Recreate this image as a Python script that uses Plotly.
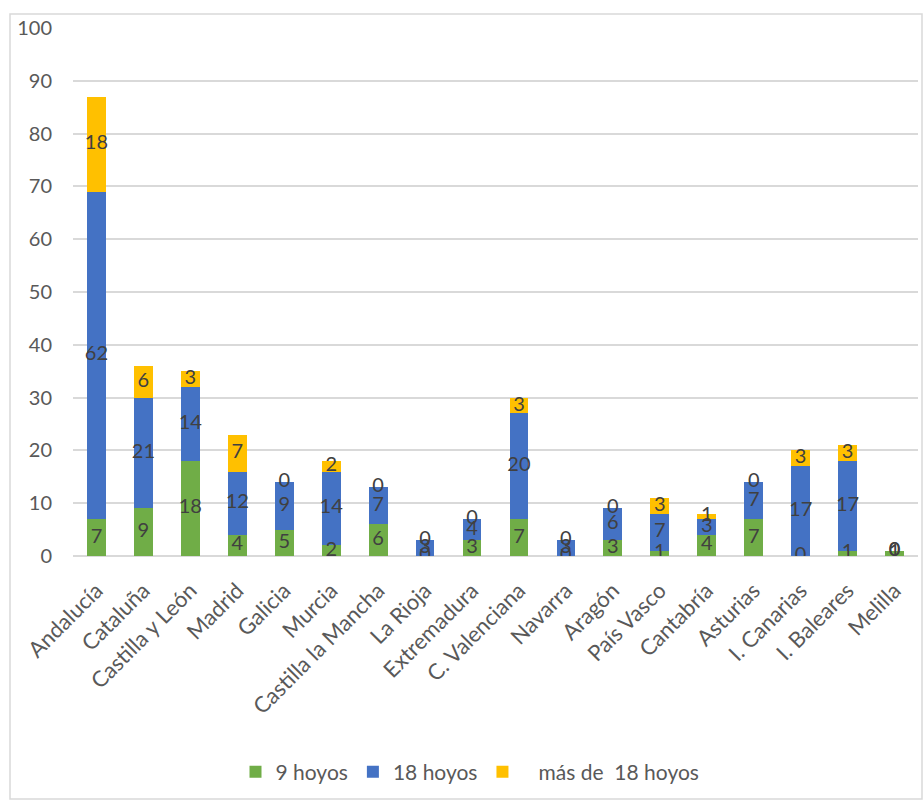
import plotly.graph_objects as go

categories = ["Andalucía", "Cataluña", "Castilla y León", "Madrid", "Galicia", "Murcia",
              "Castilla la Mancha", "La Rioja", "Extremadura", "C. Valenciana", "Navarra",
              "Aragón", "País Vasco", "Cantabría", "Asturias", "I. Canarias", "I. Baleares", "Melilla"]
hoyos9 = [7, 9, 18, 4, 5, 2, 6, 0, 3, 7, 0, 3, 1, 4, 7, 0, 1, 1]
hoyos18 = [62, 21, 14, 12, 9, 14, 7, 3, 4, 20, 3, 6, 7, 3, 7, 17, 17, 0]
mas18 = [18, 6, 3, 7, 0, 2, 0, 0, 0, 3, 0, 0, 3, 1, 0, 3, 3, 0]

series = [("9 hoyos", hoyos9, "#70AD47"),
          ("18 hoyos", hoyos18, "#4472C4"),
          ("   más de  18 hoyos", mas18, "#FFC000")]

fig = go.Figure()
base = [0] * len(categories)
label_x, label_y, label_t = [], [], []
for name, vals, color in series:
    fig.add_trace(go.Bar(name=name, x=categories, y=vals, marker_color=color,
                         marker_line_width=0))
    for i, v in enumerate(vals):
        label_x.append(categories[i])
        label_y.append(base[i] + v / 2)
        label_t.append(str(v))
    base = [b + v for b, v in zip(base, vals)]

fig.add_trace(go.Scatter(x=label_x, y=label_y, text=label_t, mode="text",
                         textfont=dict(family="Lato, Carlito, sans-serif", size=20, color="#404040"),
                         showlegend=False, hoverinfo="skip"))

fig.update_layout(
    width=923, height=800,
    barmode="stack", bargap=0.6,
    plot_bgcolor="white", paper_bgcolor="white",
    margin=dict(l=73, r=5, t=28, b=244),
    font=dict(family="Lato, Carlito, sans-serif", color="#595959"),
    legend=dict(orientation="h", x=(470 - 73) / 845, xanchor="center",
                y=(556 - 772) / 528, yanchor="middle",
                font=dict(size=21, color="#595959"), itemwidth=30,
                traceorder="normal"),
    shapes=[dict(type="rect", xref="paper", yref="paper",
                 x0=(10 - 73) / 845, x1=(922 - 73) / 845,
                 y0=(556 - 799) / 528, y1=(556 - 14) / 528,
                 line=dict(color="#D9D9D9", width=1.5), fillcolor="rgba(0,0,0,0)",
                 layer="below")],
)
fig.update_xaxes(range=[-0.5, len(categories) - 0.5], tickangle=-45,
                 tickfont=dict(size=22, color="#595959"),
                 ticks="outside", ticklen=12, tickcolor="rgba(0,0,0,0)",
                 showline=False, showgrid=False, automargin=False)
fig.update_yaxes(range=[0, 100], dtick=10, showgrid=True, gridcolor="#D9D9D9", gridwidth=1.5,
                 zeroline=True, zerolinecolor="#D9D9D9", zerolinewidth=1.5,
                 tickfont=dict(size=20, color="#595959"), ticklabelstandoff=20,
                 showline=False, ticks="", automargin=False)

fig.write_html("out.html")
